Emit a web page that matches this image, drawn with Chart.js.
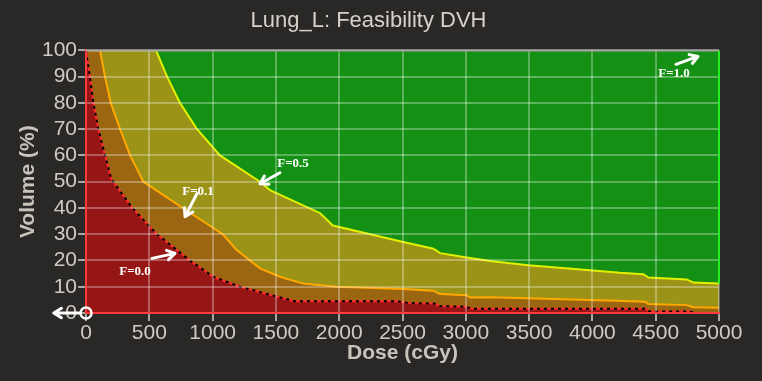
<!DOCTYPE html>
<html>
<head>
<meta charset="utf-8">
<script src="https://cdn.jsdelivr.net/npm/chart.js@4.4.1/dist/chart.umd.min.js"></script>
<style>
  html, body { margin: 0; padding: 0; background: #2a2826; }
  #wrap { width: 762px; height: 381px; }
</style>
</head>
<body>
<div id="wrap"><canvas id="myChart" width="762" height="381"></canvas></div>
<script>
// 線量 (cGy) と 体積 (%) - 画像から読み取り
const f00Dose = [0, 30, 58, 97, 150, 200, 365, 560, 821, 1005, 1216, 1480, 1651, 2450, 2550, 2750, 2800, 3000, 3050, 4420, 4450, 4770, 4800, 5000];
const f00Vol  = [100, 90, 80, 70, 60, 51, 40, 30, 20, 13.8, 10, 6.6, 4.5, 4.5, 3.8, 3.6, 2.6, 2.4, 1.6, 1.6, 0.6, 0.6, 0, 0];

const f01Dose = [0, 110, 150, 195, 269, 348, 453, 765, 1080, 1190, 1374, 1532, 1716, 1980, 2506, 2744, 2796, 3007, 3033, 3200, 4191, 4415, 4442, 4745, 4797, 5000];
const f01Vol  = [100, 100, 90, 80, 70, 60, 50, 40, 30, 24, 17, 13.8, 11.2, 10, 9.1, 8.5, 7.2, 6.8, 5.9, 6.0, 4.7, 4.3, 3.4, 3.0, 2.2, 2.0];

const f05Dose = [0, 553, 640, 742, 877, 1058, 1374, 1453, 1850, 1950, 2506, 2744, 2796, 3007, 3191, 3494, 3981, 4218, 4402, 4442, 4745, 4797, 5000];
const f05Vol  = [100, 100, 90, 80, 70, 60, 50, 46.8, 38, 33.3, 27, 24.5, 22.8, 21.1, 19.8, 18.2, 16.3, 15.3, 14.8, 13.5, 12.8, 11.6, 11.2];

const f10Dose = [0, 5000];
const f10Vol  = [100, 100];

const xTicks = [0, 500, 1000, 1500, 2000, 2500, 3000, 3500, 4000, 4500, 5000];
const yTicks = [0, 10, 20, 30, 40, 50, 60, 70, 80, 90, 100];

// 注釈 (ラベル位置と矢印) - データ座標
const labels = [
  { text: "F=1.0", x: 4645, y: 91.3, from: [4660, 94.7], to: [4834, 97.7] },
  { text: "F=0.5", x: 1635, y: 56.8, from: [1532, 53.4], to: [1374, 49.2] },
  { text: "F=0.1", x: 885, y: 46.2, from: [877, 45.5], to: [782, 36.7] },
  { text: "F=0.0", x: 387, y: 15.9, from: [521, 20.8], to: [703, 22.7] }
];

function pts(xs, ys) {
  return xs.map(function (x, i) { return { x: x, y: ys[i] }; });
}

function arrow(ctx, x1, y1, x2, y2) {
  const a = Math.atan2(y2 - y1, x2 - x1);
  const h = 9;
  ctx.beginPath();
  ctx.moveTo(x1, y1);
  ctx.lineTo(x2, y2);
  ctx.moveTo(x2 - h * Math.cos(a - 0.55), y2 - h * Math.sin(a - 0.55));
  ctx.lineTo(x2, y2);
  ctx.lineTo(x2 - h * Math.cos(a + 0.55), y2 - h * Math.sin(a + 0.55));
  ctx.stroke();
}

const notes = {
  id: "notes",
  afterDraw: function (chart) {
    const ctx = chart.ctx;
    const xs = chart.scales.x;
    const ys = chart.scales.y;
    const area = chart.chartArea;
    ctx.save();
    // 枠線 (上: 灰, 右: 緑)
    ctx.lineWidth = 2;
    ctx.strokeStyle = "#a4a4a4";
    ctx.beginPath();
    ctx.moveTo(area.left, area.top);
    ctx.lineTo(area.right, area.top);
    ctx.stroke();
    ctx.strokeStyle = "#22ee22";
    ctx.beginPath();
    ctx.moveTo(area.right, area.top);
    ctx.lineTo(area.right, ys.getPixelForValue(11.2));
    ctx.stroke();

    ctx.strokeStyle = "#ffffff";
    ctx.fillStyle = "#ffffff";
    ctx.lineWidth = 3;
    ctx.lineCap = "round";
    ctx.lineJoin = "round";
    ctx.font = "bold 13px 'Liberation Serif', 'Times New Roman', serif";
    ctx.textAlign = "center";
    ctx.textBaseline = "middle";
    labels.forEach(function (n) {
      ctx.fillText(n.text, xs.getPixelForValue(n.x), ys.getPixelForValue(n.y));
      arrow(ctx, xs.getPixelForValue(n.from[0]), ys.getPixelForValue(n.from[1]),
        xs.getPixelForValue(n.to[0]), ys.getPixelForValue(n.to[1]));
    });

    // 原点の丸と矢印
    const ox = xs.getPixelForValue(0);
    const oy = ys.getPixelForValue(0);
    arrow(ctx, ox - 6, oy, xs.getPixelForValue(-255), oy);
    ctx.lineWidth = 2.5;
    ctx.beginPath();
    ctx.arc(ox, oy, 5.5, 0, Math.PI * 2);
    ctx.stroke();
    ctx.restore();
  }
};

const tickFont = { family: "'Liberation Sans', Arial, sans-serif", size: 21, lineHeight: 1 };

const ctx = document.getElementById("myChart").getContext("2d");
const chart = new Chart(ctx, {
  type: "line",
  data: {
    datasets: [
      {
        label: "F=0.0 dash",
        data: pts(f00Dose, f00Vol),
        borderColor: "#000000",
        borderWidth: 2,
        borderDash: [3, 4],
        fill: false,
        pointRadius: 0
      },
      {
        label: "F=0.0",
        data: pts(f00Dose, f00Vol),
        borderColor: "#ff2a2a",
        backgroundColor: "#961515",
        borderWidth: 2,
        fill: "origin",
        pointRadius: 0
      },
      {
        label: "F=0.1",
        data: pts(f01Dose, f01Vol),
        borderColor: "#ffa800",
        backgroundColor: "#9a6612",
        borderWidth: 2,
        fill: "origin",
        pointRadius: 0
      },
      {
        label: "F=0.5",
        data: pts(f05Dose, f05Vol),
        borderColor: "#e2f000",
        backgroundColor: "#9b9318",
        borderWidth: 2,
        fill: "origin",
        pointRadius: 0
      },
      {
        label: "F=1.0",
        data: pts(f10Dose, f10Vol),
        borderColor: "#149114",
        backgroundColor: "#149114",
        borderWidth: 0,
        fill: "origin",
        pointRadius: 0
      }
    ]
  },
  options: {
    responsive: false,
    animation: false,
    layout: { padding: { left: 18, right: 43, top: 0, bottom: 17 } },
    plugins: {
      legend: { display: false },
      tooltip: { enabled: false },
      title: {
        display: true,
        text: "Lung_L: Feasibility DVH",
        color: "#d6d2ca",
        font: { family: "'Liberation Sans', Arial, sans-serif", size: 22, weight: "normal", lineHeight: 1.2 },
        padding: { top: 8, bottom: 16 }
      }
    },
    scales: {
      x: {
        type: "linear",
        min: 0,
        max: 5000,
        afterBuildTicks: function (axis) { axis.ticks = xTicks.map(function (v) { return { value: v }; }); },
        ticks: {
          color: "#cfcbc3",
          padding: 2,
          maxRotation: 0,
          autoSkip: false,
          font: tickFont,
          callback: function (v) { return String(v); }
        },
        grid: { z: 1, color: "rgba(255,255,255,0.3)", lineWidth: 2, tickLength: 8, tickColor: "#a8a8a8" },
        border: { z: 2, color: "#ff3a3a", width: 2 },
        title: {
          display: true,
          text: "Dose (cGy)",
          color: "#c8c4bc",
          font: { family: "'Liberation Sans', Arial, sans-serif", size: 21, weight: "bold", lineHeight: 1 },
          padding: { top: -3, bottom: 0 }
        }
      },
      y: {
        min: 0,
        max: 100,
        afterBuildTicks: function (axis) { axis.ticks = yTicks.map(function (v) { return { value: v }; }); },
        ticks: {
          color: "#cfcbc3",
          padding: 1,
          autoSkip: false,
          font: tickFont,
          callback: function (v) { return String(v); }
        },
        grid: { z: 1, color: "rgba(255,255,255,0.3)", lineWidth: 2, tickLength: 8, tickColor: "#a8a8a8" },
        border: { z: 2, color: "#ff3a3a", width: 2 },
        title: {
          display: true,
          text: "Volume (%)",
          color: "#c8c4bc",
          font: { family: "'Liberation Sans', Arial, sans-serif", size: 21, weight: "bold", lineHeight: 1 },
          padding: { top: 0, bottom: 2 }
        }
      }
    }
  },
  plugins: [notes]
});
</script>
</body>
</html>
